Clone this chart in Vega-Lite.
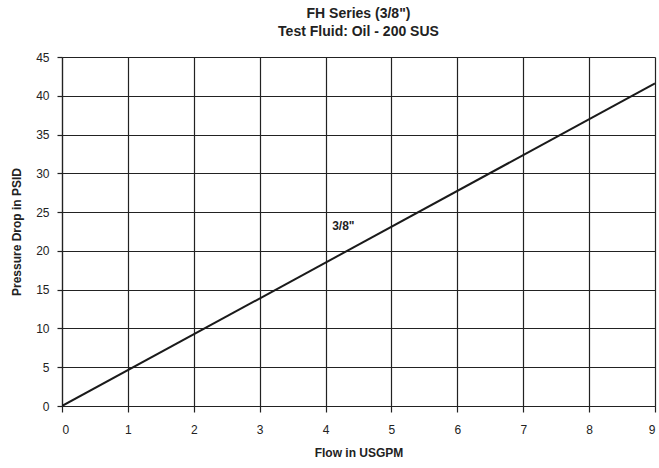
{
  "$schema": "https://vega.github.io/schema/vega-lite/v6.json",
  "width": 593,
  "height": 349,
  "autosize": {"type": "none"},
  "padding": {"left": 62, "top": 57, "right": 4, "bottom": 62},
  "background": "white",
  "title": {
    "text": ["FH Series (3/8\")", "Test Fluid: Oil - 200 SUS"],
    "font": "Liberation Sans",
    "fontSize": 14,
    "fontWeight": "bold",
    "color": "#222",
    "lineHeight": 18,
    "offset": 12,
    "anchor": "middle"
  },
  "config": {
    "view": {"stroke": null},
    "axis": {
      "labelFont": "Liberation Sans",
      "labelFontSize": 12,
      "labelColor": "#222",
      "titleFont": "Liberation Sans",
      "titleFontSize": 12,
      "titleFontWeight": "bold",
      "titleColor": "#222",
      "gridColor": "#222",
      "gridOpacity": 1,
      "gridWidth": 1.2,
      "domainColor": "#222",
      "domainWidth": 1.2,
      "tickColor": "#222",
      "tickWidth": 1.2
    }
  },
  "data": {
    "values": [
      {"flow": 0, "psid": 0},
      {"flow": 9, "psid": 41.6}
    ]
  },
  "encoding": {
    "x": {
      "field": "flow",
      "type": "quantitative",
      "scale": {"domain": [0, 9], "nice": false},
      "axis": {"title": "Flow in USGPM", "values": [0,1,2,3,4,5,6,7,8,9], "format": "d", "tickSize": 6, "labelPadding": 12, "titlePadding": 12, "grid": true}
    },
    "y": {
      "field": "psid",
      "type": "quantitative",
      "scale": {"domain": [0, 45], "nice": false},
      "axis": {"title": "Pressure Drop in PSID", "values": [0,5,10,15,20,25,30,35,40,45], "format": "d", "tickSize": 5, "labelPadding": 8, "titlePadding": 12, "grid": true}
    }
  },
  "layer": [
    {
      "mark": {"type": "line", "color": "#1a1a1a", "strokeWidth": 2, "clip": true}
    },
    {
      "data": {"values": [{"flow": 4.1, "psid": 23.2, "label": "3/8\""}]},
      "mark": {"type": "text", "font": "Liberation Sans", "fontSize": 12, "fontWeight": "bold", "color": "#222", "align": "left", "baseline": "middle"},
      "encoding": {
        "text": {"field": "label"}
      }
    }
  ]
}
